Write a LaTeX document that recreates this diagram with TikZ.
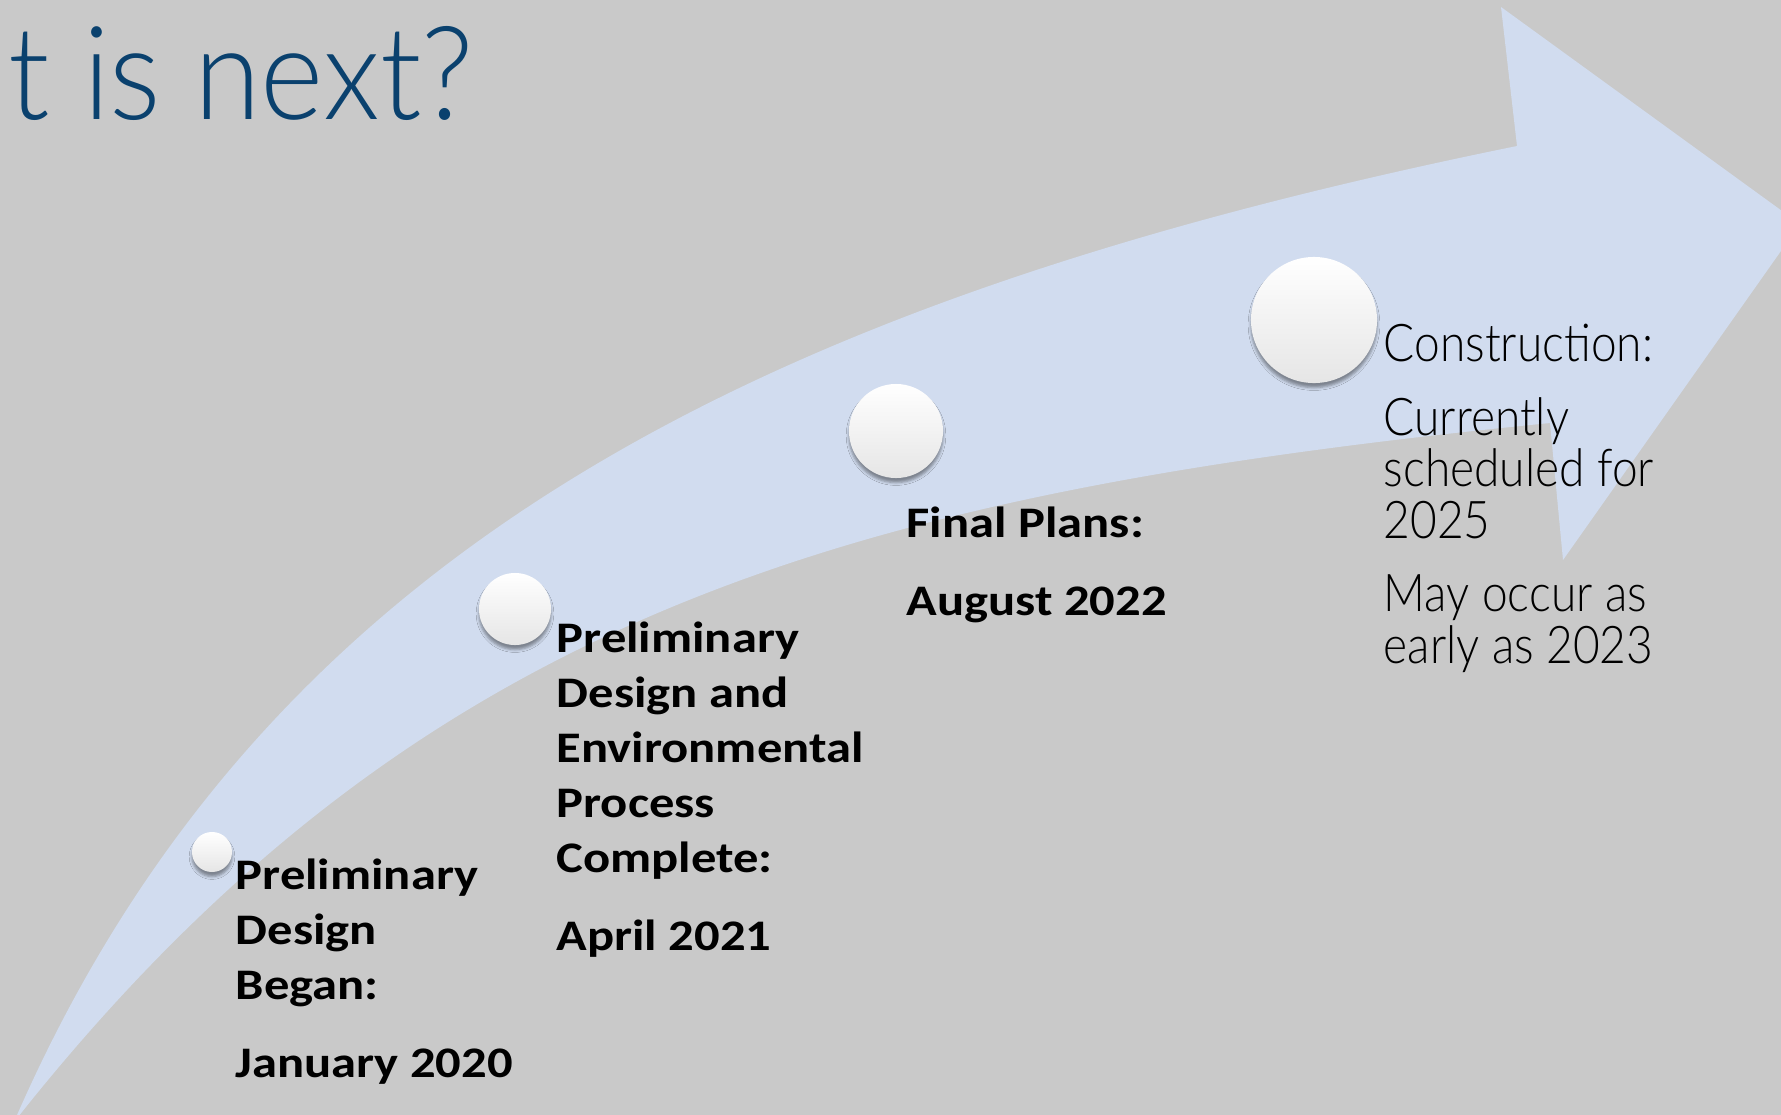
\documentclass[tikz,border=0pt]{standalone}
\usepackage{fontspec}
\usetikzlibrary{shadows.blur}
\newfontfamily\labelfont[FakeStretch=1.16]{Carlito}
\newfontfamily\lightfont[FakeStretch=0.885]{Lato Light}
\newfontfamily\titlefont[FakeStretch=0.93]{Lato Light}
\definecolor{slidegrey}{RGB}{201,201,201}
\definecolor{arrowblue}{RGB}{209,220,239}
\definecolor{titleblue}{RGB}{10,65,110}
\setlength{\lineskiplimit}{-20pt}
\tikzset{
	% white milestone dots
	stopdot/.style={circle, inner sep=0pt, top color=white, middle color=white,
		bottom color=black!10,
		blur shadow={shadow xshift=0pt, shadow yshift=-1.3pt, shadow blur radius=0.8pt, shadow opacity=40}},
	% milestone texts
	boldtext/.style={anchor=base west, inner sep=0pt, align=left,
		font=\labelfont\bfseries\fontsize{12.4pt}{15.7pt}\selectfont},
	lighttext/.style={anchor=base west, inner sep=0pt, align=left,
		font=\lightfont\fontsize{14.8pt}{14.65pt}\selectfont}
}
\begin{document}
\begin{tikzpicture}[x=0.01cm, y=-0.01cm]
	% slide 1781 x 1115 px, 1 px = 0.1 mm
	\useasboundingbox (0,0) rectangle (1781,1115);
	\clip (0,0) rectangle (1781,1115);
	\fill[slidegrey] (0,0) rectangle (1781,1115);
	
	% curved arrow
	\fill[arrowblue] (14,1122) .. controls (262,550) and (760,300) .. (1517,146)
		-- (1501,7) -- (1800,224) -- (1563,560) -- (1550,423)
		.. controls (850,493) and (417,612) .. (14,1122) -- cycle;
	
	% title
	\node[anchor=base west, inner sep=0pt, text=titleblue,
		font=\titlefont\fontsize{37pt}{44pt}\selectfont] (title) at (8,119) {t is next?};
	
	% milestones
	\node[stopdot, minimum size=4mm] (dot1) at (212,852) {};
	\node[stopdot, minimum size=7.2mm] (dot2) at (515,609) {};
	\node[stopdot, minimum size=9.4mm] (dot3) at (896,431) {};
	\node[stopdot, minimum size=12.6mm] (dot4) at (1314,320) {};
	
	\node[boldtext] (began) at (235,1077) {Preliminary\\Design\\Began:\\[6.2pt]January 2020};
	\node[boldtext] (complete) at (556,950) {Preliminary\\Design and\\Environmental\\Process\\Complete:\\[6.2pt]April 2021};
	\node[boldtext] (final) at (906,615) {Final Plans:\\[6.2pt]August 2022};
	\node[lighttext] (build) at (1383,663) {Construction:\\[6.3pt]Currently\\scheduled for\\2025\\[6.2pt]May occur as\\early as 2023};
\end{tikzpicture}
\end{document}
